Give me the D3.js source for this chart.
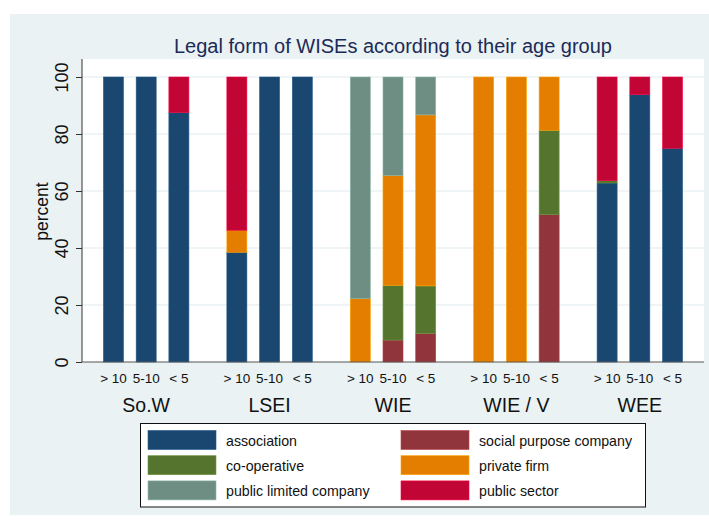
<!DOCTYPE html>
<html>
<head>
<meta charset="utf-8">
<script src="https://cdn.jsdelivr.net/npm/d3@7"></script>
<style>
  body { margin: 0; background: #fff; }
  svg { display: block; font-family: "Liberation Sans", Arial, sans-serif; }
</style>
</head>
<body>
<div class="chart"></div>
<script>
const groups = ["So.W", "LSEI", "WIE", "WIE / V", "WEE"];
const ages = ["> 10", "5-10", "< 5"];
const forms = ["association", "social purpose company", "co-operative",
  "private firm", "public limited company", "public sector"];
const colors = ["#1a476f", "#90353b", "#55752f", "#e37e00", "#6e8e84", "#c10534"];
// values per form, group by group (> 10, 5-10, < 5)
const association   = [100, 100, 87.5, 38.5, 100, 100, 0, 0, 0, 0, 0, 0, 62.8, 93.8, 75];
const socialPurpose = [0, 0, 0, 0, 0, 0, 0, 7.7, 10, 0, 0, 51.7, 0, 0, 0];
const cooperative   = [0, 0, 0, 0, 0, 0, 0, 19.2, 16.7, 0, 0, 29.6, 0.8, 0, 0];
const privateFirm   = [0, 0, 0, 7.7, 0, 0, 22.2, 38.5, 60, 100, 100, 18.7, 0, 0, 0];
const publicLimited = [0, 0, 0, 0, 0, 0, 77.8, 34.6, 13.3, 0, 0, 0, 0, 0, 0];
const publicSector  = [0, 0, 12.5, 53.8, 0, 0, 0, 0, 0, 0, 0, 0, 36.4, 6.2, 25];
const yTicks = [0, 20, 40, 60, 80, 100];

const W = 709, H = 520;
const PLOT = { left: 82, right: 704, top: 59, bottom: 362 };

const series = [association, socialPurpose, cooperative, privateFirm, publicLimited, publicSector];
const rows = [];
groups.forEach((g, gi) => {
  ages.forEach((a, ai) => {
    const row = { group: g, age: a };
    forms.forEach((f, fi) => (row[f] = series[fi][gi * 3 + ai]));
    rows.push(row);
  });
});

const stacked = d3.stack().keys(forms)(rows);
const cScale = d3.scaleOrdinal().domain(forms).range(colors);

const xGroup = d3.scaleBand().domain(groups)
  .range([PLOT.left, PLOT.right]).paddingInner(0).paddingOuter(0.02);
const xAge = d3.scaleBand().domain(ages)
  .range([0, xGroup.bandwidth()]).paddingInner(0.388).paddingOuter(0.58);
const yScale = d3.scaleLinear().domain([0, 100]).range([PLOT.bottom, 77]);

const svg = d3.select(".chart").append("svg").attr("width", W).attr("height", H);

// backgrounds
svg.append("rect").attr("x", 10).attr("y", 14).attr("width", W - 10).attr("height", 501)
  .attr("fill", "#eaf2f3");
svg.append("rect").attr("x", PLOT.left).attr("y", PLOT.top)
  .attr("width", PLOT.right - PLOT.left).attr("height", PLOT.bottom - PLOT.top)
  .attr("fill", "#fff");

// gridlines
svg.append("g").selectAll("line").data(yTicks.slice(1)).enter().append("line")
  .attr("x1", PLOT.left).attr("x2", PLOT.right)
  .attr("y1", (d) => yScale(d)).attr("y2", (d) => yScale(d))
  .attr("stroke", "#eaf2f3").attr("stroke-width", 1.5);

// bars
svg.append("g").selectAll("g").data(stacked).enter().append("g")
  .attr("fill", (d) => cScale(d.key))
  .attr("stroke", (d) => d3.color(cScale(d.key)).brighter(0.7))
  .attr("stroke-width", 0.6)
  .selectAll("rect").data((d) => d.filter((s) => s[1] - s[0] > 0)).enter().append("rect")
  .attr("x", (d) => xGroup(d.data.group) + xAge(d.data.age))
  .attr("width", xAge.bandwidth())
  .attr("y", (d) => yScale(d[1]))
  .attr("height", (d) => yScale(d[0]) - yScale(d[1]));

// y axis
const yAxis = d3.axisLeft(yScale).tickValues(yTicks).tickSize(6).tickPadding(6);
const gy = svg.append("g").attr("transform", `translate(${PLOT.left},0)`).call(yAxis);
gy.select(".domain").attr("d", `M0,${PLOT.top}V${PLOT.bottom}`).attr("stroke", "#333");
gy.selectAll(".tick line").attr("stroke", "#333");
gy.selectAll(".tick text")
  .attr("font-size", 18).attr("fill", "#111")
  .attr("text-anchor", "middle")
  .attr("x", 0).attr("y", 0).attr("dy", 0)
  .attr("transform", "translate(-14,0) rotate(-90)");

svg.append("text")
  .attr("transform", `translate(48,${(yScale(100) + yScale(0)) / 2 - 8}) rotate(-90)`)
  .attr("text-anchor", "middle").attr("font-size", 17.5).attr("fill", "#111")
  .text("percent");

// x axis line
svg.append("line").attr("x1", PLOT.left).attr("x2", PLOT.right)
  .attr("y1", PLOT.bottom).attr("y2", PLOT.bottom)
  .attr("stroke", "#555").attr("stroke-width", 1);

// age labels
svg.append("g").selectAll("text").data(rows).enter().append("text")
  .attr("x", (d) => xGroup(d.group) + xAge(d.age) + xAge.bandwidth() / 2)
  .attr("y", 383)
  .attr("text-anchor", "middle").attr("font-size", 13.5).attr("fill", "#111")
  .text((d) => d.age);

// group labels
svg.append("g").selectAll("text").data(groups).enter().append("text")
  .attr("x", (d) => xGroup(d) + xGroup.bandwidth() / 2)
  .attr("y", 412)
  .attr("text-anchor", "middle").attr("font-size", 19.5).attr("fill", "#111")
  .text((d) => d);

// title
svg.append("text").attr("x", (PLOT.left + PLOT.right) / 2).attr("y", 53)
  .attr("text-anchor", "middle").attr("font-size", 20).attr("fill", "#1c2a58")
  .text("Legal form of WISEs according to their age group");

// legend
const legend = svg.append("g");
legend.append("rect").attr("x", 140.5).attr("y", 423.5).attr("width", 505).attr("height", 83.5)
  .attr("fill", "#fff").attr("stroke", "#111").attr("stroke-width", 1);
const items = legend.selectAll("g").data(forms).enter().append("g")
  .attr("transform", (d, i) => `translate(${i % 2 === 0 ? 148 : 401},${430.5 + Math.floor(i / 2) * 25.2})`);
items.append("rect").attr("width", 68).attr("height", 19)
  .attr("fill", (d) => cScale(d))
  .attr("stroke", (d) => d3.color(cScale(d)).brighter(0.7)).attr("stroke-width", 0.6);
items.append("text").attr("x", 78).attr("y", 15.2)
  .attr("font-size", 14.2).attr("fill", "#111")
  .text((d) => d);
</script>
</body>
</html>
